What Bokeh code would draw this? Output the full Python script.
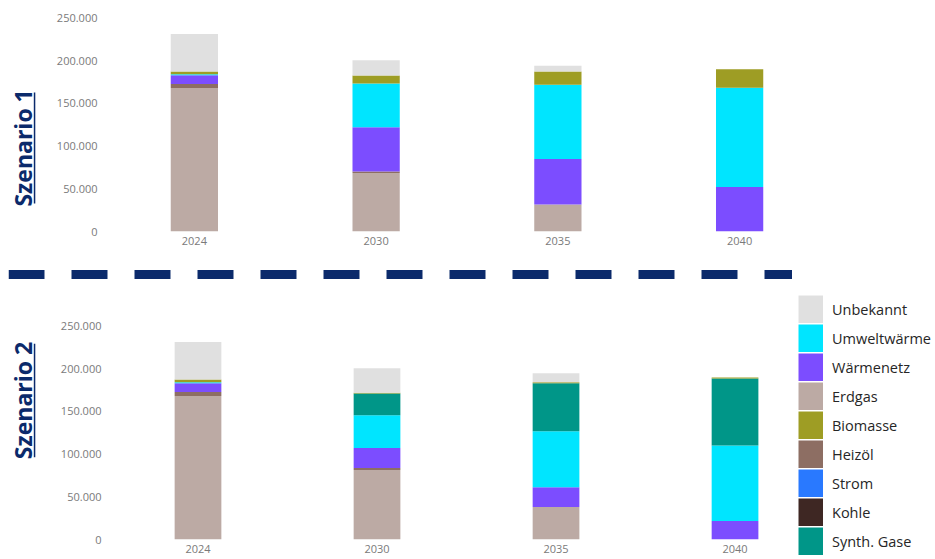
import math
from bokeh.plotting import figure
from bokeh.models import (ColumnDataSource, Range1d, FixedTicker, Legend, LegendItem,
                          Label, BoxAnnotation, Span)
from bokeh.layouts import column, row
from bokeh.embed import file_html
from bokeh.resources import INLINE

# ---------------- data ----------------
years = ["2024", "2030", "2035", "2040"]
y_ticks = [0, 50000, 100000, 150000, 200000, 250000]
y_tick_labels = ["0", "50.000", "100.000", "150.000", "200.000", "250.000"]

carrier_keys = ["erdgas", "heizoel", "strom", "kohle", "waermenetz",
                "umweltwaerme", "synth", "biomasse", "unbekannt"]
carrier_names = ["Erdgas", "Heizöl", "Strom", "Kohle", "Wärmenetz",
                 "Umweltwärme", "Synth. Gase", "Biomasse", "Unbekannt"]
carrier_colors = ["#bcaaa4", "#8d6e63", "#2979ff", "#3e2723", "#7c4dff",
                  "#00e5ff", "#009688", "#9e9d24", "#e0e0e0"]
legend_order = ["Unbekannt", "Umweltwärme", "Wärmenetz", "Erdgas", "Biomasse",
                "Heizöl", "Strom", "Kohle", "Synth. Gase"]

# Szenario 1
s1_erdgas = [168200, 68500, 31600, 0]
s1_heizoel = [4700, 1900, 0, 0]
s1_strom = [0, 0, 0, 0]
s1_kohle = [0, 0, 0, 0]
s1_waermenetz = [10200, 51700, 53200, 52000]
s1_umweltwaerme = [1200, 51200, 87000, 116300]
s1_synth = [0, 0, 0, 0]
s1_biomasse = [3100, 9400, 15600, 21900]
s1_unbekannt = [44100, 18000, 6700, 0]

# Szenario 2
s2_erdgas = [168200, 81500, 38200, 0]
s2_heizoel = [4700, 2400, 0, 0]
s2_strom = [0, 0, 0, 0]
s2_kohle = [0, 0, 0, 0]
s2_waermenetz = [10200, 23400, 23100, 21800]
s2_umweltwaerme = [1200, 38300, 65600, 88300]
s2_synth = [0, 25400, 56200, 78500]
s2_biomasse = [3100, 1000, 1200, 1200]
s2_unbekannt = [44100, 28600, 10500, 0]

NAVY = "#0b2a6b"
TICK_GRAY = "#7a7a7a"
FONT = "Open Sans"

x_pos = list(range(len(years)))


def make_source(erdgas, heizoel, strom, kohle, waermenetz, umweltwaerme, synth, biomasse, unbekannt):
    return ColumnDataSource(dict(
        year=years, xpos=x_pos, erdgas=erdgas, heizoel=heizoel, strom=strom, kohle=kohle,
        waermenetz=waermenetz, umweltwaerme=umweltwaerme, synth=synth,
        biomasse=biomasse, unbekannt=unbekannt))


def base_fig(**kw):
    return figure(output_backend="svg", toolbar_location=None, outline_line_color=None,
                  background_fill_color="white", border_fill_color="white",
                  frame_align=False, **kw)


def style_axes(p, x_standoff, y_standoff):
    p.xgrid.visible = False
    p.ygrid.visible = False
    for ax in (p.xaxis, p.yaxis):
        ax.axis_line_color = None
        ax.major_tick_line_color = None
        ax.minor_tick_line_color = None
        ax.major_tick_out = 0
        ax.major_tick_in = 0
        ax.minor_tick_out = 0
        ax.minor_tick_in = 0
        ax.major_label_text_font = FONT
        ax.major_label_text_font_size = "11px"
        ax.major_label_text_color = TICK_GRAY
    p.yaxis.ticker = FixedTicker(ticks=y_ticks)
    p.yaxis.major_label_overrides = {t: l for t, l in zip(y_ticks, y_tick_labels)}
    p.yaxis.major_label_standoff = y_standoff
    p.xaxis.major_label_standoff = x_standoff


def label_fig(text, height, x, y, ul_left, ul_bottom, ul_top):
    f = base_fig(width=45, height=height, x_range=Range1d(0, 1), y_range=Range1d(0, 1),
                 x_axis_type=None, y_axis_type=None, min_border=0)
    f.xgrid.visible = False
    f.ygrid.visible = False
    f.add_layout(Label(x=x, y=y, x_units="screen", y_units="screen", text=text,
                       angle=math.pi / 2, text_align="center", text_baseline="middle",
                       text_font=FONT, text_font_style="bold", text_font_size="23px",
                       text_color=NAVY))
    f.add_layout(BoxAnnotation(left=ul_left, right=ul_left + 1.5, bottom=ul_bottom, top=ul_top,
                               left_units="screen", right_units="screen",
                               bottom_units="screen", top_units="screen",
                               fill_color=NAVY, fill_alpha=1.0, line_color=None))
    return f


# ---------------- Szenario 1 ----------------
src1 = make_source(s1_erdgas, s1_heizoel, s1_strom, s1_kohle, s1_waermenetz,
                   s1_umweltwaerme, s1_synth, s1_biomasse, s1_unbekannt)
p1 = base_fig(x_range=years, y_range=Range1d(0, 270620), width=890, height=258,
              min_border_left=58, min_border_right=105, min_border_top=0, min_border_bottom=27)
p1.vbar_stack(carrier_keys, x="year", width=0.26, color=carrier_colors,
              line_color=None, source=src1)
style_axes(p1, 5, 6)
lab1 = label_fig("Szenario 1", 258, 22.0, 110.6, 33.3, 55, 166)

# ---------------- dashed separator ----------------
sep = base_fig(width=792, height=32, x_range=Range1d(0, 1), y_range=Range1d(-1, 1),
               x_axis_type=None, y_axis_type=None, min_border_left=8,
               min_border_right=0, min_border_top=0, min_border_bottom=0)
sep.xgrid.visible = False
sep.ygrid.visible = False
sep.add_layout(Span(location=0, dimension="width", line_color=NAVY, line_width=9,
                    line_dash="36 27"))

# ---------------- Szenario 2 ----------------
src2 = make_source(s2_erdgas, s2_heizoel, s2_strom, s2_kohle, s2_waermenetz,
                   s2_umweltwaerme, s2_synth, s2_biomasse, s2_unbekannt)
p2 = base_fig(x_range=Range1d(-0.5, 3.349), y_range=Range1d(0, 291700), width=752, height=269,
              min_border_left=63, min_border_right=0, min_border_top=0, min_border_bottom=20)
p2.vbar_stack(carrier_keys, x="xpos", width=0.261, color=carrier_colors,
              line_color=None, source=src2)
style_axes(p2, 5, 7)
p2.xaxis.ticker = FixedTicker(ticks=x_pos)
p2.xaxis.major_label_overrides = {i: y for i, y in zip(x_pos, years)}
lab2 = label_fig("Szenario 2", 269, 22.0, 159, 33.3, 102.3, 215.7)

# ---------------- legend ----------------
legfig = base_fig(width=138, height=269, x_range=Range1d(0, 1), y_range=Range1d(0, 1),
                  x_axis_type=None, y_axis_type=None, min_border=0)
legfig.xgrid.visible = False
legfig.ygrid.visible = False
color_of = dict(zip(carrier_names, carrier_colors))
proxy = {n: legfig.line(x=[float("nan")], y=[float("nan")], line_color=color_of[n],
                        line_width=28)
         for n in legend_order}
legend = Legend(items=[LegendItem(label=n, renderers=[proxy[n]]) for n in legend_order],
                location=(1, 4), orientation="vertical",
                glyph_width=25, glyph_height=28, label_height=20, spacing=1,
                padding=0, margin=0, label_standoff=9,
                border_line_color=None, background_fill_alpha=0,
                label_text_font=FONT, label_text_font_size="14.5px",
                label_text_color="#262626")
legfig.add_layout(legend)

layout = column(row(lab1, p1), sep, row(lab2, p2, legfig))
open("out.html", "w").write(file_html(layout, INLINE))
